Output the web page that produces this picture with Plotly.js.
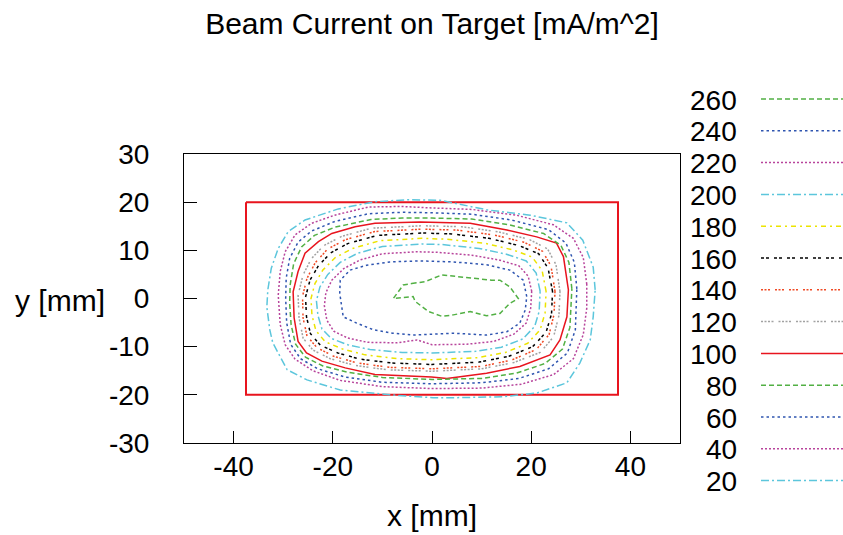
<!DOCTYPE html>
<html>
<head>
<meta charset="utf-8">
<script src="https://cdn.plot.ly/plotly-3.0.1.min.js"></script>
<style>html,body{margin:0;padding:0;background:#fff;}#chart{width:843px;height:535px;}</style>
</head>
<body>
<div id="chart"></div>
<script>
// ---- data (units: mm) ----
var levels = [260, 240, 220, 200, 180, 160, 140, 120, 100, 80, 60, 40, 20];

var c260x = [-4.1, -1.4, 2.0, 5.3, 8.7, 12.0, 13.7, 15.7, 17.4, 15.7, 13.7, 11.0, 7.7, 4.3, 2.0, -0.7, -3.4, -3.8, -7.8, -5.8, -4.1];
var c260y = [3.1, 3.5, 4.9, 4.5, 4.2, 3.8, 3.8, 2.4, 0.0, -1.0, -3.1, -3.6, -2.7, -3.4, -3.7, -2.7, -0.6, 0.4, 0.0, 2.8, 3.1];

var c240x = [19.1, 18.4, 15.7, 11.0, 4.3, -2.4, -8.5, -13.2, -16.5, -18.5, -18.6, -18.3, -17.9, -15.2, -11.8, -7.9, -3.8, 4.3, 11.0, 15.1, 17.7, 18.8, 19.1];
var c240y = [0.4, 3.8, 5.9, 7.0, 7.6, 7.8, 7.6, 6.9, 5.9, 3.8, 1.1, -1.5, -3.8, -5.1, -6.5, -7.2, -7.6, -7.2, -7.6, -6.9, -5.1, -2.4, 0.4];

var c220x = [20.1, 19.4, 17.5, 13.5, 8.0, 1.0, -3.0, -10.0, -14.5, -17.8, -20.2, -21.4, -21.7, -21.2, -19.8, -17.0, -13.0, -7.0, -3.0, 0.0, 7.0, 12.5, 16.5, 19.0, 19.9, 20.1];
var c220y = [1.5, 4.6, 6.8, 8.0, 9.0, 9.6, 9.7, 9.3, 8.0, 6.2, 3.8, 1.2, -1.5, -4.5, -6.8, -8.2, -9.1, -9.2, -8.6, -9.6, -9.5, -8.9, -7.4, -5.1, -2.0, 1.5];

var c200x = [21.8, 21.0, 19.0, 15.0, 9.5, 2.0, -2.0, -10.0, -15.0, -18.5, -21.0, -22.6, -23.3, -23.0, -22.2, -20.3, -17.0, -12.5, -6.0, 0.0, 8.5, 14.0, 18.3, 20.7, 21.6, 21.8];
var c200y = [1.5, 5.3, 7.8, 9.2, 10.4, 11.2, 11.3, 10.8, 9.4, 7.5, 5.0, 2.4, -0.5, -3.5, -6.3, -8.3, -9.6, -10.6, -11.2, -11.3, -11.0, -10.1, -8.4, -5.8, -2.7, 1.5];

var c180x = [23.0, 22.2, 20.2, 16.3, 10.5, 3.0, -2.0, -10.5, -16.0, -19.5, -22.0, -23.6, -24.4, -24.2, -23.4, -21.5, -18.0, -13.5, -7.0, 0.0, 9.0, 14.8, 19.3, 21.8, 22.8, 23.0];
var c180y = [1.5, 5.8, 8.6, 10.1, 11.5, 12.3, 12.5, 12.0, 10.4, 8.5, 5.9, 3.1, 0.0, -3.5, -6.7, -9.0, -10.5, -11.7, -12.5, -12.7, -12.3, -11.2, -9.3, -6.5, -3.0, 1.5];

var c160x = [24.3, 23.4, 21.5, 17.5, 11.5, 4.0, -2.0, -11.0, -17.0, -20.4, -22.9, -24.6, -25.5, -25.3, -24.5, -22.5, -19.0, -14.5, -8.0, 0.0, 9.5, 15.5, 20.3, 23.0, 24.1, 24.3];
var c160y = [1.5, 6.3, 9.3, 11.0, 12.5, 13.4, 13.6, 13.1, 11.4, 9.5, 6.8, 3.8, 0.3, -3.8, -7.3, -9.7, -11.3, -12.6, -13.4, -13.7, -13.2, -12.0, -10.0, -7.0, -3.2, 1.5];

var c140x = [24.8, 24.0, 22.3, 18.5, 12.5, 5.0, -2.0, -11.5, -17.5, -21.0, -23.5, -25.2, -26.1, -26.0, -25.2, -23.2, -19.8, -15.0, -8.5, 0.0, 10.0, 16.0, 21.0, 23.6, 24.6, 24.8];
var c140y = [1.5, 6.7, 9.8, 11.7, 13.2, 14.2, 14.4, 13.9, 12.2, 10.3, 7.5, 4.2, 0.5, -4.0, -7.8, -10.2, -12.0, -13.4, -14.3, -14.6, -14.1, -12.8, -10.6, -7.5, -3.3, 1.5];

var c120x = [25.8, 25.0, 23.3, 19.5, 13.5, 6.0, -2.0, -12.2, -18.2, -21.8, -24.3, -26.0, -27.0, -26.8, -26.0, -24.0, -20.5, -15.5, -9.0, 0.0, 10.0, 16.5, 21.8, 24.5, 25.6, 25.8];
var c120y = [1.5, 7.0, 10.3, 12.3, 13.8, 14.9, 15.1, 14.6, 12.9, 11.0, 8.3, 4.9, 0.7, -4.0, -8.2, -10.7, -12.5, -13.9, -14.8, -15.1, -14.6, -13.3, -11.2, -8.0, -3.5, 1.5];

var c100x = [27.5, 26.5, 25.1, 21.1, 15.1, 7.7, -2.4, -11.5, -15.5, -20.2, -22.9, -25.6, -27.0, -28.0, -27.8, -27.0, -25.3, -22.2, -17.5, -11.5, -0.1, 3.0, 11.0, 17.7, 23.8, 25.8, 27.2, 27.5];
var c100y = [1.8, 8.7, 11.5, 12.8, 14.2, 15.6, 15.9, 15.6, 14.9, 13.5, 11.8, 9.4, 5.6, 1.4, -4.0, -8.9, -11.3, -13.0, -14.4, -15.8, -16.3, -16.6, -15.5, -14.1, -11.7, -8.6, -3.8, 1.8];

var c80x = [28.2, 27.6, 26.0, 22.5, 15.5, 8.0, 0.0, -6.0, -12.3, -19.6, -23.7, -26.3, -27.9, -28.6, -28.7, -28.4, -27.5, -25.5, -22.0, -17.0, -10.0, 0.0, 10.0, 17.0, 22.8, 26.3, 27.8, 28.2];
var c80y = [2.0, 7.5, 11.0, 13.5, 15.3, 16.5, 16.7, 16.7, 16.4, 14.8, 13.1, 10.7, 7.2, 2.8, -1.0, -5.5, -9.5, -12.2, -14.0, -15.3, -16.4, -16.8, -16.6, -15.5, -13.5, -10.5, -6.0, 2.0];

var c60x = [29.2, 28.7, 27.0, 23.5, 16.0, 8.0, 0.0, -6.0, -12.8, -19.6, -24.3, -27.0, -28.7, -29.4, -29.5, -29.3, -28.5, -26.5, -23.0, -17.5, -10.0, 0.0, 10.0, 17.5, 23.5, 27.3, 28.9, 29.2];
var c60y = [2.0, 7.5, 11.5, 14.3, 16.3, 17.5, 17.8, 17.9, 17.6, 16.0, 14.0, 11.7, 8.3, 4.2, 0.0, -5.0, -9.5, -12.5, -14.6, -16.3, -17.4, -17.7, -17.5, -16.6, -14.6, -11.3, -6.5, 2.0];

var c40x = [31.2, 30.5, 28.5, 24.5, 17.0, 8.0, 0.0, -6.0, -12.8, -19.6, -24.3, -27.6, -29.6, -30.6, -31.0, -30.6, -29.6, -27.6, -24.0, -18.5, -10.0, 0.0, 10.0, 18.0, 24.5, 28.5, 30.5, 31.2, 31.2];
var c40y = [3.0, 8.5, 12.5, 15.3, 17.3, 18.5, 18.8, 19.1, 19.0, 17.3, 15.6, 13.2, 9.7, 5.6, 0.7, -5.4, -9.6, -12.6, -15.0, -17.0, -18.3, -18.7, -18.6, -17.8, -15.8, -12.5, -7.5, -2.0, 3.0];

var c20x = [32.9, 32.5, 30.4, 27.2, 19.8, 11.1, 1.6, -5.0, -11.5, -18.9, -25.6, -29.0, -31.0, -32.4, -33.1, -33.3, -32.7, -32.1, -29.2, -25.2, -18.5, -8.5, 0.2, 4.2, 14.3, 21.2, 27.2, 29.8, 31.9, 32.5, 32.9];
var c20y = [1.8, 6.5, 12.1, 15.7, 17.3, 18.4, 20.4, 20.5, 20.1, 18.6, 16.3, 13.9, 10.4, 6.3, 1.8, -1.8, -6.5, -9.2, -14.8, -16.9, -19.0, -20.0, -20.6, -20.6, -20.4, -19.6, -17.5, -13.4, -8.6, -3.8, 1.8];

// target outline (mm)
var targetX = [-37.5, 37.5, 37.5, -37.5, -37.5];
var targetY = [20, 20, -20, -20, 20];

var xTicks = [-40, -20, 0, 20, 40];
var yTicks = [-30, -20, -10, 0, 10, 20, 30];

// ---- styles ----
var contourX = {260: c260x, 240: c240x, 220: c220x, 200: c200x, 180: c180x, 160: c160x, 140: c140x, 120: c120x, 100: c100x, 80: c80x, 60: c60x, 40: c40x, 20: c20x};
var contourY = {260: c260y, 240: c240y, 220: c220y, 200: c200y, 180: c180y, 160: c160y, 140: c140y, 120: c120y, 100: c100y, 80: c80y, 60: c60y, 40: c40y, 20: c20y};

var GREEN = '#52b044', BLUE = '#2f55b0', MAGENTA = '#b8459c', CYAN = '#5cc6dc',
    YELLOW = '#ece400', BLACK = '#000000', ORANGE = '#f04a25', GRAY = '#a2a2a2', RED = '#e8141e';
var DASH_G = '5px,3px', DASH_B = '2.5px,3px', DASH_M = '2px,2px', DASH_C = '8px,3px,2px,3px';
var styleFor = {
  260: [GREEN, DASH_G], 240: [BLUE, DASH_B], 220: [MAGENTA, DASH_M], 200: [CYAN, DASH_C],
  180: [YELLOW, '5px,4px,2px,4px'], 160: [BLACK, '3px,2px,3px,5px'],
  140: [ORANGE, '2px,1.5px,2px,1.5px,2px,5px'], 120: [GRAY, '2px,1.5px,2px,1.5px,2px,1.5px,2px,5px'],
  100: [RED, 'solid'], 80: [GREEN, DASH_G], 60: [BLUE, DASH_B], 40: [MAGENTA, DASH_M], 20: [CYAN, DASH_C]
};

var FONT = 'Liberation Sans, Arial, Helvetica, sans-serif';
var LW = 1.5;

var traces = [];
traces.push({
  x: targetX, y: targetY, type: 'scatter', mode: 'lines',
  line: {color: RED, width: 2}, hoverinfo: 'skip', showlegend: false
});
levels.forEach(function (lv) {
  traces.push({
    x: contourX[lv], y: contourY[lv], type: 'scatter', mode: 'lines', name: String(lv),
    line: {color: styleFor[lv][0], dash: styleFor[lv][1], width: LW},
    showlegend: false
  });
});

// ---- legend drawn on the right (label then line sample) ----
var W = 843, H = 535, L = 184, R = 680, T = 154, B = 443;
function px2paperX(p) { return (p - L) / (R - L); }
function px2paperY(p) { return (B - p) / (B - T); }
var shapes = [], annotations = [];
levels.forEach(function (lv, i) {
  var yc = 100 + i * 31.8;
  annotations.push({
    xref: 'paper', yref: 'paper', x: px2paperX(739), y: px2paperY(yc),
    xanchor: 'right', yanchor: 'middle', showarrow: false, text: String(lv),
    font: {family: FONT, size: 28, color: '#000'}
  });
  shapes.push({
    type: 'line', xref: 'paper', yref: 'paper',
    x0: px2paperX(761), x1: px2paperX(843), y0: px2paperY(yc - 1), y1: px2paperY(yc - 1),
    line: {color: styleFor[lv][0], dash: styleFor[lv][1], width: LW}
  });
});
annotations.push({
  xref: 'paper', yref: 'paper', x: px2paperX(60), y: px2paperY(300),
  xanchor: 'center', yanchor: 'middle', showarrow: false, text: 'y [mm]',
  font: {family: FONT, size: 30, color: '#000'}
});

var layout = {
  width: W, height: H, autosize: false,
  margin: {l: L, r: W - R, t: T, b: H - B, pad: 0},
  paper_bgcolor: '#fff', plot_bgcolor: '#fff',
  font: {family: FONT, size: 28, color: '#000'},
  title: {text: 'Beam Current on Target [mA/m^2]', x: 0.5, xref: 'paper', xanchor: 'center',
          y: 1 - 23 / H, yref: 'container', yanchor: 'middle',
          font: {family: FONT, size: 30, color: '#000'}},
  showlegend: false,
  xaxis: {
    range: [-50, 50], tickvals: xTicks, ticktext: xTicks.map(String),
    ticks: 'inside', ticklen: 12, tickwidth: 1, tickcolor: '#000',
    showline: true, linecolor: '#000', linewidth: 1, mirror: true,
    showgrid: false, zeroline: false, ticklabelstandoff: -2,
    tickfont: {family: FONT, size: 28, color: '#000'},
    title: {text: 'x [mm]', standoff: 24, font: {family: FONT, size: 30, color: '#000'}}
  },
  yaxis: {
    range: [-30, 30], tickvals: yTicks, ticktext: yTicks.map(String),
    ticks: 'inside', ticklen: 13, tickwidth: 1, tickcolor: '#000',
    showline: true, linecolor: '#000', linewidth: 1, mirror: true,
    showgrid: false, zeroline: false, ticklabelstandoff: 28,
    tickfont: {family: FONT, size: 28, color: '#000'}
  },
  shapes: shapes,
  annotations: annotations
};

Plotly.newPlot('chart', traces, layout, {displayModeBar: false, staticPlot: true});
</script>
</body>
</html>
